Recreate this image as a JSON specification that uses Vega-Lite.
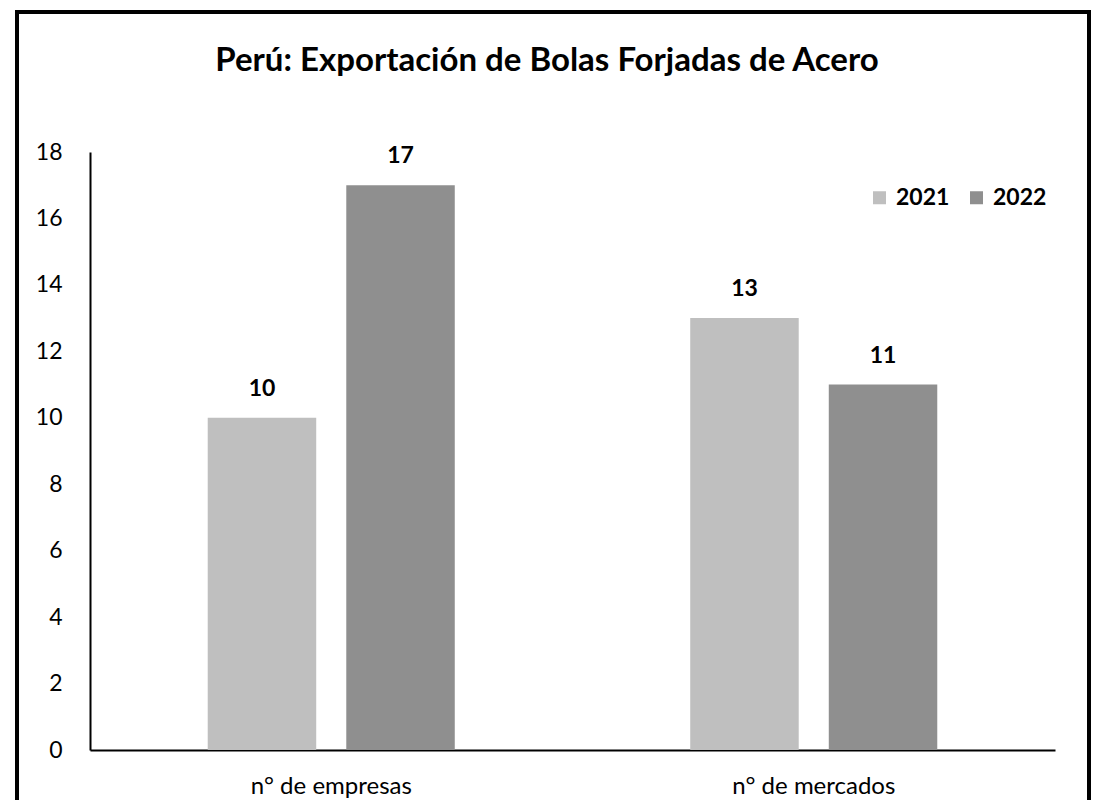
{
  "$schema": "https://vega.github.io/schema/vega-lite/v6.json",
  "width": 1072,
  "height": 800,
  "autosize": "none",
  "padding": {"left": 17, "top": 12, "right": 4, "bottom": 0},
  "background": "white",
  "config": {
    "view": {"stroke": "black", "strokeWidth": 4},
    "font": "Lato"
  },
  "title": {
    "text": "Perú: Exportación de Bolas Forjadas de Acero",
    "font": "Lato",
    "fontSize": 33,
    "fontWeight": "bold",
    "color": "black",
    "anchor": "middle",
    "offset": -66,
    "dx": -6
  },
  "data": {
    "values": [
      {"categoria": "n° de empresas", "anio": "2021", "valor": 10},
      {"categoria": "n° de empresas", "anio": "2022", "valor": 17},
      {"categoria": "n° de mercados", "anio": "2021", "valor": 13},
      {"categoria": "n° de mercados", "anio": "2022", "valor": 11}
    ]
  },
  "encoding": {
    "x": {
      "field": "categoria",
      "type": "nominal",
      "sort": ["n° de empresas", "n° de mercados"],
      "scale": {"range": [73, 1038], "paddingInner": 0.488, "paddingOuter": 0.244},
      "axis": {
        "title": null,
        "offset": -62,
        "domainColor": "black",
        "domainWidth": 2,
        "ticks": false,
        "labelAngle": 0,
        "labelPadding": 24,
        "labelFontSize": 24,
        "labelColor": "black",
        "labelFont": "Lato"
      }
    },
    "xOffset": {
      "field": "anio",
      "type": "nominal",
      "scale": {"paddingInner": 0.217, "paddingOuter": 0}
    },
    "y": {
      "field": "valor",
      "type": "quantitative",
      "scale": {"domain": [0, 18], "nice": false, "range": [738, 140]},
      "axis": {
        "title": null,
        "offset": -73,
        "values": [0, 2, 4, 6, 8, 10, 12, 14, 16, 18],
        "grid": false,
        "ticks": false,
        "domainColor": "black",
        "domainWidth": 2,
        "labelPadding": 28,
        "labelFontSize": 23,
        "labelColor": "black",
        "labelFont": "Lato"
      }
    }
  },
  "layer": [
    {
      "mark": {"type": "bar"},
      "encoding": {
        "color": {
          "field": "anio",
          "type": "nominal",
          "scale": {"domain": ["2021", "2022"], "range": ["#BFBFBF", "#8F8F8F"]},
          "legend": {
            "title": null,
            "orient": "none",
            "direction": "horizontal",
            "legendX": 851,
            "legendY": 174,
            "symbolType": "square",
            "symbolSize": 169,
            "symbolStrokeWidth": 0,
            "labelFontSize": 23,
            "labelFontWeight": "bold",
            "labelColor": "black",
            "labelFont": "Lato",
            "labelOffset": 5,
            "columnPadding": 15
          }
        }
      }
    },
    {
      "mark": {"type": "text", "baseline": "bottom", "dy": -17, "fontSize": 23, "fontWeight": "bold", "color": "black", "font": "Lato"},
      "encoding": {
        "text": {"field": "valor", "type": "quantitative"}
      }
    }
  ]
}
